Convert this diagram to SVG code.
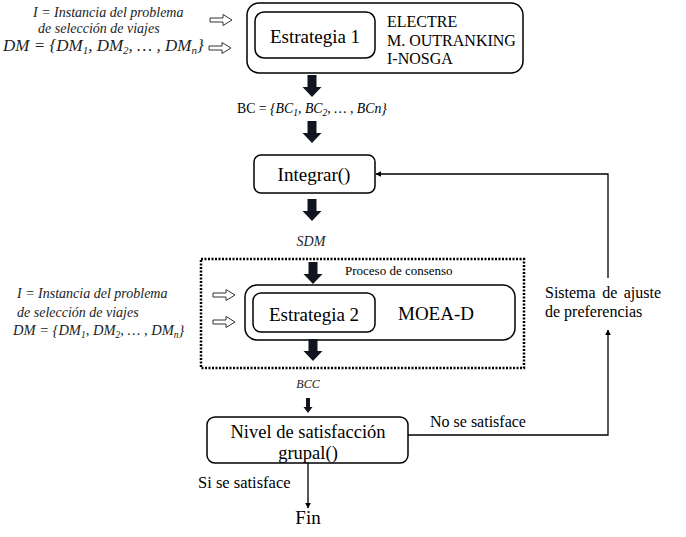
<svg xmlns="http://www.w3.org/2000/svg" width="686" height="537" viewBox="0 0 686 537">
<style>
  .box{fill:#fff;stroke:#000;stroke-width:1.5}
  .t{font-family:"Liberation Serif",Tinos,"Times New Roman","DejaVu Serif","Noto Serif",serif;fill:#000}
  .i{font-family:"Liberation Serif",Tinos,"Times New Roman","DejaVu Serif","Noto Serif",serif;font-style:italic;fill:#222}
  .ln{fill:none;stroke:#000;stroke-width:1.3}
  .hol{fill:#fff;stroke:#333;stroke-width:1}
  .blk{fill:#11151f}
</style>
<defs>
  <path id="big" d="M-4.5,0 H4.5 V12 H9.5 L0,22 L-9.5,12 H-4.5 Z"/>
  <path id="small" d="M-2,0 H2 V9 H4.5 L0,15 L-4.5,9 H-2 Z"/>
  <path id="hollow" d="M0,-2 H13 V-5.5 L22,0 L13,5.5 V2 H0 Z"/>
  <marker id="ah" viewBox="0 0 10 10" refX="9" refY="5" markerWidth="6" markerHeight="6" orient="auto" markerUnits="userSpaceOnUse">
    <path d="M0,0 L10,5 L0,10 Z" fill="#000"/>
  </marker>
</defs>

<g id="inputs1">
  <text class="i" x="33" y="17" font-size="14">I = Instancia del problema</text>
  <text class="i" x="38" y="33" font-size="14">de selección de viajes</text>
  <text class="i" x="3" y="51" font-size="17">DM = {DM<tspan font-size="11" dy="3">1</tspan><tspan dy="-3">, DM</tspan><tspan font-size="11" dy="3">2</tspan><tspan dy="-3">, … , DM</tspan><tspan font-size="11" dy="3">n</tspan><tspan dy="-3">}</tspan></text>
  <use href="#hollow" class="hol" x="210" y="20"/>
  <use href="#hollow" class="hol" x="209" y="48"/>
</g>

<g id="strategy1">
  <rect class="box" x="247" y="3" width="276" height="70" rx="12"/>
  <rect class="box" x="255" y="12" width="120" height="46" rx="9"/>
  <text class="t" x="315" y="43" font-size="19" text-anchor="middle">Estrategia 1</text>
  <text class="t" x="387" y="27" font-size="16">ELECTRE</text>
  <text class="t" x="387" y="46" font-size="16">M. OUTRANKING</text>
  <text class="t" x="387" y="64" font-size="16">I-NOSGA</text>
</g>

<g id="bc">
  <text class="t" x="237" y="113" font-size="13.8">BC = <tspan font-style="italic">{BC</tspan><tspan font-style="italic" font-size="9.5" dy="3">1</tspan><tspan font-style="italic" dy="-3">, BC</tspan><tspan font-style="italic" font-size="9.5" dy="3">2</tspan><tspan font-style="italic" dy="-3">, … , BCn}</tspan></text>
</g>

<g id="integrar">
  <rect class="box" x="254" y="155" width="121" height="38" rx="7"/>
  <text class="t" x="314" y="181" font-size="19" text-anchor="middle">Integrar()</text>
</g>

<g id="sdm">
  <text class="i" x="311" y="246" font-size="14" text-anchor="middle">SDM</text>
</g>

<g id="consenso">
  <rect x="201" y="259" width="323" height="109" fill="none" stroke="#000" stroke-width="2.5" stroke-dasharray="2 1.5"/>
  <text class="t" x="345" y="275" font-size="13">Proceso de consenso</text>
</g>

<g id="inputs2">
  <text class="i" x="17" y="298" font-size="14">I = Instancia del problema</text>
  <text class="i" x="17" y="317" font-size="14">de selección de viajes</text>
  <text class="i" x="13" y="335" font-size="14.5">DM = {DM<tspan font-size="9.5" dy="3">1</tspan><tspan dy="-3">, DM</tspan><tspan font-size="9.5" dy="3">2</tspan><tspan dy="-3">, … , DM</tspan><tspan font-size="9.5" dy="3">n</tspan><tspan dy="-3">}</tspan></text>
  <use href="#hollow" class="hol" x="213" y="295"/>
  <use href="#hollow" class="hol" x="213" y="322"/>
</g>

<g id="strategy2">
  <rect class="box" x="245" y="285" width="270" height="55" rx="12"/>
  <rect class="box" x="253" y="293" width="122" height="39" rx="8"/>
  <text class="t" x="314" y="321" font-size="19" text-anchor="middle">Estrategia 2</text>
  <text class="t" x="398" y="320" font-size="19">MOEA-D</text>
</g>

<g id="bcc">
  <text class="i" x="308" y="388" font-size="12" text-anchor="middle">BCC</text>
</g>

<g id="nivel">
  <rect class="box" x="207" y="417" width="201" height="46" rx="8"/>
  <text class="t" x="308" y="438" font-size="18.5" text-anchor="middle">Nivel de satisfacción</text>
  <text class="t" x="308" y="459" font-size="18.5" text-anchor="middle">grupal()</text>
</g>

<g id="sistema">
  <text class="t" x="545" y="298" font-size="16" word-spacing="2.5">Sistema de ajuste</text>
  <text class="t" x="545" y="317" font-size="16">de preferencias</text>
</g>

<g id="fin">
  <text class="t" x="308" y="524" font-size="19" text-anchor="middle">Fin</text>
</g>

<g id="connectors">
  <use href="#big" class="blk" x="312" y="75"/>
  <use href="#big" class="blk" x="312" y="121"/>
  <use href="#big" class="blk" x="312" y="199"/>
  <use href="#big" class="blk" x="313" y="262"/>
  <use href="#big" class="blk" x="313" y="339"/>
  <use href="#small" class="blk" x="308" y="398"/>
  <line class="ln" x1="308" y1="463" x2="308" y2="508" stroke-width="1" marker-end="url(#ah)"/>
  <text class="t" x="198" y="488" font-size="16.5">Si se satisface</text>
  <polyline class="ln" points="408,435 608,435 608,330" marker-end="url(#ah)"/>
  <text class="t" x="430" y="427" font-size="16">No se satisface</text>
  <polyline class="ln" points="608,278 608,174 376,174" marker-end="url(#ah)"/>
</g>
</svg>
